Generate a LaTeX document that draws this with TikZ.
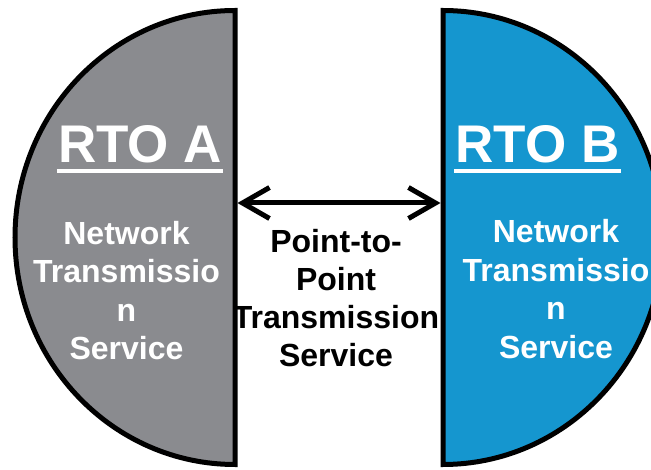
\documentclass[tikz,border=0pt]{standalone}
\usepackage{fontspec}
\setmainfont{Liberation Sans}
\usetikzlibrary{arrows.meta}
\definecolor{rtogray}{HTML}{8A8B8F}
\definecolor{rtoblue}{HTML}{1596CF}
\tikzset{
  half/.style={draw=black, line width=5pt, line join=miter},
  title/.style={text=white, inner sep=0pt, font=\fontsize{53}{57}\selectfont\bfseries},
  body/.style={inner sep=0pt, align=center, font=\fontsize{32}{38.5}\selectfont\bfseries},
  uline/.style={white, line width=4pt},
  link/.style={line width=5pt, {Straight Barb[length=27pt,width=31pt]}-{Straight Barb[length=27pt,width=31pt]}}
}
\begin{document}
\begin{tikzpicture}[x=1pt,y=1pt]
\useasboundingbox (0,0) rectangle (651,469);
\clip (0,0) rectangle (651,469);
% half ellipses
\filldraw[half, fill=rtogray] (235,458.5) arc[start angle=90, end angle=270, x radius=220, y radius=227] -- cycle;
\filldraw[half, fill=rtoblue] (443,458.5) arc[start angle=90, end angle=-90, x radius=220, y radius=227] -- cycle;
% edge points
\coordinate (aedge) at (237.5,266);
\coordinate (bedge) at (440.5,266);
\draw[link] (aedge) -- (bedge);
% titles
\node[title, anchor=base] (rtoa) at (140,306) {RTO A};
\node[title, anchor=base] (rtob) at (537.5,306) {RTO B};
\draw[uline] ([xshift=-1pt,yshift=-8pt]rtoa.base west) -- ([xshift=1pt,yshift=-8pt]rtoa.base east);
\draw[uline] ([xshift=-1pt,yshift=-8pt]rtob.base west) -- ([xshift=1pt,yshift=-8pt]rtob.base east);
% bodies
\node[body, text=white] (sa) at (126.5,178.3) {Network\\Transmissio\\n\\Service};
\node[body, text=white] (sb) at (556,179.7) {Network\\Transmissio\\n\\Service};
\node[body, text=black, font=\fontsize{32}{38}\selectfont\bfseries] (mid) at (336,170.8) {Point-to-\\Point\\Transmission\\Service};
\end{tikzpicture}
\end{document}
